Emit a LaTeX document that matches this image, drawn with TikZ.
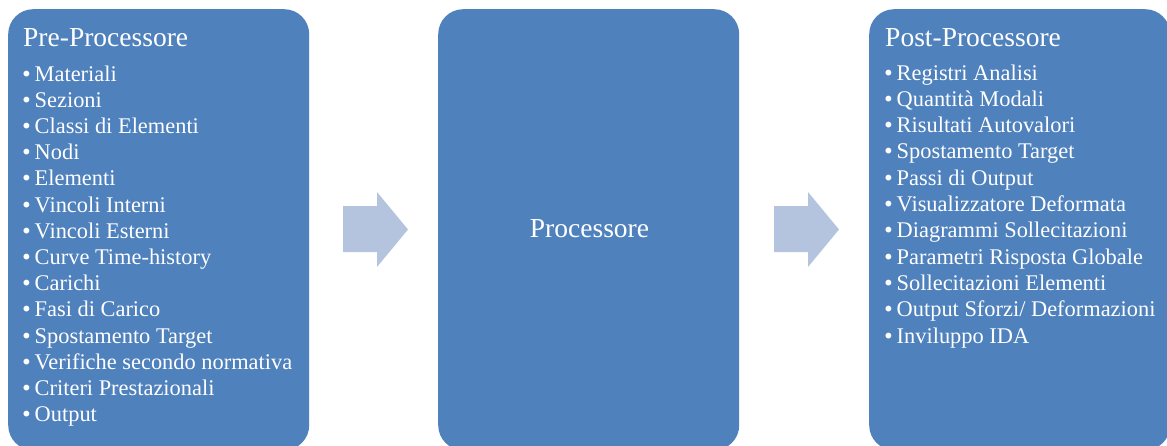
\documentclass[tikz,border=0pt]{standalone}
\usepackage{fontspec}
\setmainfont{Liberation Serif}
\newfontfamily\bulletfont{DejaVu Sans}
\definecolor{boxblue}{HTML}{4F81BD}
\definecolor{arrowblue}{HTML}{B4C4DE}
\tikzset{
  panel/.style={fill=boxblue, draw=none, rounded corners=25pt, minimum width=301pt, minimum height=441pt, inner sep=0pt, anchor=north west},
  paneltitle/.style={text=white, inner sep=0pt, anchor=base west, font=\fontsize{27.5}{33}\selectfont},
  item/.style={text=white, inner sep=0pt, anchor=base west, font=\fontsize{22.4}{26.2}\selectfont},
  blockarrow/.style={fill=arrowblue, draw=none}
}
\newcommand{\bulletitem}[1]{\makebox[14pt][l]{\bulletfont\fontsize{20}{24}\selectfont\textbullet}#1}
\begin{document}
\begin{tikzpicture}[x=1pt,y=-1pt]
\useasboundingbox (0,0) rectangle (1167,445);
\clip (0,0) rectangle (1167,445);
% panels
\node[panel] (pre) at (8,9) {};
\node[panel] (proc) at (438,9) {};
\node[panel] (post) at (869,9) {};
% block arrows
\fill[blockarrow] (343,206) -- (377,206) -- (377,192) -- (408,229.5) -- (377,267) -- (377,252) -- (343,252) -- cycle;
\fill[blockarrow] (774,206) -- (808,206) -- (808,192) -- (839,229.5) -- (808,267) -- (808,252) -- (774,252) -- cycle;
% titles
\node[paneltitle] (pretitle) at (23,46) {Pre-Processore};
\node[paneltitle, anchor=base] (proctitle) at (589.5,237) {Processore};
\node[paneltitle] (posttitle) at (885,46) {Post-Processore};
% pre items
\foreach \t [count=\i] in {Materiali, Sezioni, Classi di Elementi, Nodi, Elementi, Vincoli Interni, Vincoli Esterni, Curve Time-history, Carichi, Fasi di Carico, Spostamento Target, Verifiche secondo normativa, Criteri Prestazionali, Output}
  \node[item] (pre\i) at (20.5,{81+26.2*(\i-1)}) {\bulletitem{\t}};
% post items
\foreach \t [count=\i] in {Registri Analisi, Quantità Modali, Risultati Autovalori, Spostamento Target, Passi di Output, Visualizzatore Deformata, Diagrammi Sollecitazioni, Parametri Risposta Globale, Sollecitazioni Elementi, Output Sforzi/ Deformazioni, Inviluppo IDA}
  \node[item] (post\i) at (882.5,{80+26.3*(\i-1)}) {\bulletitem{\t}};
\end{tikzpicture}
\end{document}
